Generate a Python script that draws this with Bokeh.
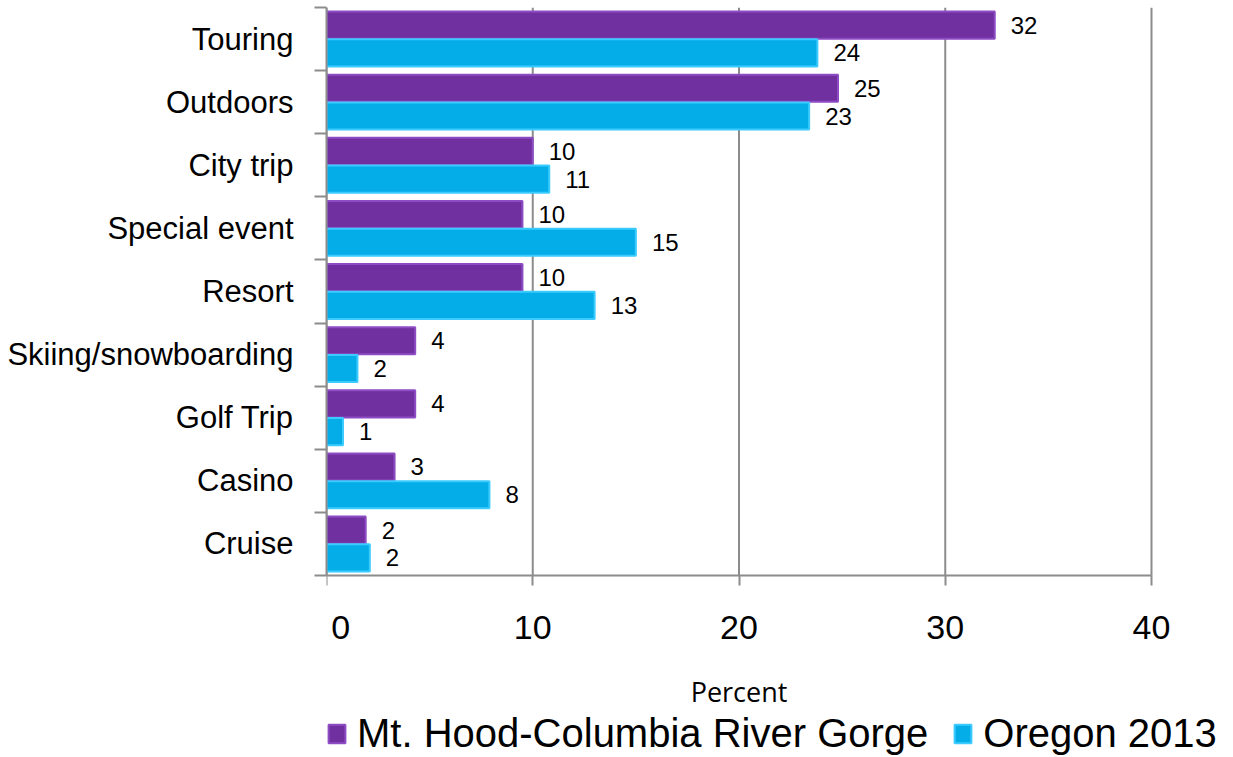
from bokeh.plotting import figure
from bokeh.models import FixedTicker, ColumnDataSource, Legend, LegendItem, Range1d
from bokeh.embed import file_html
from bokeh.resources import INLINE
from bokeh.core.properties import value

categories = ["Touring", "Outdoors", "City trip", "Special event", "Resort",
              "Skiing/snowboarding", "Golf Trip", "Casino", "Cruise"]
mthood = [32.4, 24.8, 10.0, 9.5, 9.5, 4.3, 4.3, 3.3, 1.9]
oregon = [23.8, 23.4, 10.8, 15.0, 13.0, 1.5, 0.8, 7.9, 2.1]
mthood_labels = ["32", "25", "10", "10", "10", "4", "4", "3", "2"]
oregon_labels = ["24", "23", "11", "15", "13", "2", "1", "8", "2"]
series_names = ["Mt. Hood-Columbia River Gorge", "Oregon 2013"]
x_ticks = [0, 10, 20, 30, 40]

n = len(categories)
centers = [n - 0.5 - i for i in range(n)]
off = 0.22
bh = 0.43
x_max = 40
px_per_unit = 20.625
frame_w = 895
frame_h = 750
y_px_per_unit = 568 / n
y_low = -(frame_h - 568) / y_px_per_unit

FONT = "Liberation Sans"

p = figure(frame_width=frame_w, frame_height=frame_h, output_backend="svg",
           toolbar_location=None,
           x_range=Range1d(0, frame_w / px_per_unit), y_range=Range1d(y_low, n),
           min_border_left=326, min_border_right=0, min_border_top=7,
           min_border_bottom=0)
p.outline_line_color = None
p.xgrid.visible = False
p.ygrid.visible = False

# vertical grid lines limited to the category area
p.segment(x0=x_ticks, y0=[0] * len(x_ticks), x1=x_ticks, y1=[n] * len(x_ticks),
          line_color="#8C8C8C", line_width=2)

src_a = ColumnDataSource(dict(y=[c + off for c in centers], v=mthood, lab=mthood_labels))
src_b = ColumnDataSource(dict(y=[c - off for c in centers], v=oregon, lab=oregon_labels))

r_a = p.hbar(y="y", height=bh, left=0, right="v", source=src_a,
             fill_color="#7030A0", line_color="#8E4CC4", line_width=2)
r_b = p.hbar(y="y", height=bh, left=0, right="v", source=src_b,
             fill_color="#05ADE8", line_color="#3CCBFF", line_width=2)

for src in (src_a, src_b):
    p.text(x="v", y="y", text="lab", source=src, x_offset=16,
           text_baseline="middle", text_align="left",
           text_font=value(FONT), text_font_size="24px", text_color="#000000")

# x axis drawn at y = 0
p.xaxis.fixed_location = 0
p.xaxis.bounds = (0, x_max)
p.xaxis.ticker = FixedTicker(ticks=x_ticks)
p.xaxis.major_label_overrides = {0: "\u00a0\u00a0\u00a00"}
p.xaxis.axis_line_color = "#8C8C8C"
p.xaxis.axis_line_width = 2
p.xaxis.major_tick_line_color = "#8C8C8C"
p.xaxis.major_tick_line_width = 2
p.xaxis.major_tick_out = 10
p.xaxis.major_tick_in = 0
p.xaxis.minor_tick_line_color = None
p.xaxis.major_label_text_font = FONT
p.xaxis.major_label_text_font_size = "34px"
p.xaxis.major_label_text_color = "#000000"
p.xaxis.major_label_standoff = 22
p.xaxis.axis_label = "Percent"
p.xaxis.axis_label_text_font = "Open Sans"
p.xaxis.axis_label_text_font_style = "normal"
p.xaxis.axis_label_text_font_size = "27px"
p.xaxis.axis_label_text_color = "#000000"
p.xaxis.axis_label_standoff = 24

# y axis
p.yaxis.bounds = (0, n)
p.yaxis.ticker = FixedTicker(ticks=centers, minor_ticks=list(range(n + 1)))
p.yaxis.major_label_overrides = {c: categories[i] for i, c in enumerate(centers)}
p.yaxis.axis_line_color = "#8C8C8C"
p.yaxis.axis_line_width = 2
p.yaxis.major_tick_line_color = None
p.yaxis.major_tick_out = 0
p.yaxis.major_tick_in = 0
p.yaxis.minor_tick_line_color = "#8C8C8C"
p.yaxis.minor_tick_line_width = 2
p.yaxis.minor_tick_out = 12
p.yaxis.minor_tick_in = 0
p.yaxis.major_label_text_font = FONT
p.yaxis.major_label_text_font_size = "31px"
p.yaxis.major_label_text_color = "#000000"
p.yaxis.major_label_standoff = 21

legend = Legend(items=[LegendItem(label=series_names[0], renderers=[r_a]),
                       LegendItem(label=series_names[1], renderers=[r_b])],
                orientation="horizontal", location=(0, 1),
                label_text_font=FONT, label_text_font_size="40px",
                label_text_color="#000000", glyph_width=21, glyph_height=23,
                spacing=24, border_line_color=None, background_fill_alpha=0,
                padding=0, margin=0, label_standoff=10)
p.add_layout(legend, "center")

open("out.html", "w").write(file_html(p, INLINE))
